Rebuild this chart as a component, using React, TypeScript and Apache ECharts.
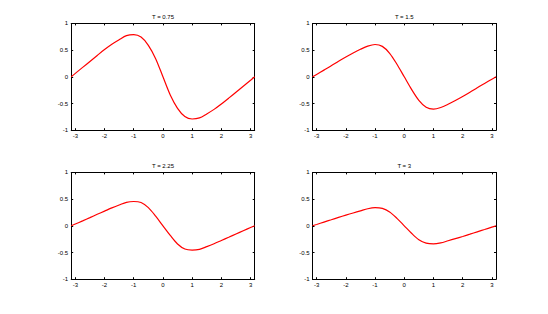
import React, { useEffect, useRef } from "react";
import * as echarts from "echarts";

const xs = [-Math.PI, -3, -2.75, -2.5, -2.25, -2, -1.75, -1.5, -1.25, -1, -0.75, -0.5, -0.25, 0,
  0.25, 0.5, 0.75, 1, 1.25, 1.5, 1.75, 2, 2.25, 2.5, 2.75, 3, Math.PI];

const u075 = [0, 0.064, 0.176, 0.288, 0.4, 0.51, 0.61, 0.695, 0.77, 0.79, 0.745, 0.59, 0.34, 0,
  -0.34, -0.59, -0.745, -0.79, -0.77, -0.695, -0.61, -0.51, -0.4, -0.288, -0.176, -0.064, 0];
const u150 = [0, 0.045, 0.125, 0.205, 0.29, 0.37, 0.445, 0.515, 0.575, 0.605, 0.57, 0.44, 0.235, 0,
  -0.235, -0.44, -0.57, -0.605, -0.575, -0.515, -0.445, -0.37, -0.29, -0.205, -0.125, -0.045, 0];
const u225 = [0, 0.033, 0.092, 0.153, 0.215, 0.275, 0.335, 0.39, 0.44, 0.455, 0.435, 0.34, 0.18, 0,
  -0.18, -0.34, -0.435, -0.455, -0.44, -0.39, -0.335, -0.275, -0.215, -0.153, -0.092, -0.033, 0];
const u300 = [0, 0.025, 0.07, 0.113, 0.157, 0.2, 0.24, 0.28, 0.32, 0.34, 0.325, 0.26, 0.14, 0,
  -0.14, -0.26, -0.325, -0.34, -0.32, -0.28, -0.24, -0.2, -0.157, -0.113, -0.07, -0.025, 0];

const titles = ["T = 0.75", "T = 1.5", "T = 2.25", "T = 3"];
const seriesValues = [u075, u150, u225, u300];
const xTicks = [-3, -2, -1, 0, 1, 2, 3];

const FONT = "Liberation Sans";

export default function App() {
  const ref = useRef<HTMLDivElement>(null);
  useEffect(() => {
    if (!ref.current) return;
    const chart = echarts.init(ref.current, undefined, { renderer: "svg" });
    const boxes = [
      { left: 71.2, top: 23.4, width: 183.5, height: 106.8 },
      { left: 312.5, top: 23.4, width: 183.5, height: 106.8 },
      { left: 71.2, top: 172.4, width: 183.5, height: 106.8 },
      { left: 312.5, top: 172.4, width: 183.5, height: 106.8 },
    ];
    const axisLine = { show: true, onZero: false, lineStyle: { color: "#000", width: 1 } };
    const xAxis: any[] = [];
    const yAxis: any[] = [];
    const series: any[] = [];
    const graphic: any[] = [];
    boxes.forEach((b, i) => {
      xAxis.push({
        type: "value", gridIndex: i, position: "bottom", min: -Math.PI, max: Math.PI,
        axisLine, splitLine: { show: false },
        axisTick: { show: true, inside: true, length: 2, customValues: xTicks, lineStyle: { color: "#000" } },
        axisLabel: { show: true, customValues: xTicks, fontSize: 6, margin: 3, color: "#000", fontFamily: FONT },
      });
      xAxis.push({
        type: "value", gridIndex: i, position: "top", min: -Math.PI, max: Math.PI,
        axisLine, splitLine: { show: false },
        axisTick: { show: true, inside: true, length: 2, customValues: xTicks, lineStyle: { color: "#000" } },
        axisLabel: { show: false },
      });
      yAxis.push({
        type: "value", gridIndex: i, position: "left", min: -1, max: 1, interval: 0.5,
        axisLine, splitLine: { show: false },
        axisTick: { show: true, inside: true, length: 2, lineStyle: { color: "#000" } },
        axisLabel: { show: true, fontSize: 6, margin: 3, color: "#000", fontFamily: FONT },
      });
      yAxis.push({
        type: "value", gridIndex: i, position: "right", min: -1, max: 1, interval: 0.5,
        axisLine, splitLine: { show: false },
        axisTick: { show: true, inside: true, length: 2, lineStyle: { color: "#000" } },
        axisLabel: { show: false },
      });
      series.push({
        type: "line", xAxisIndex: 2 * i, yAxisIndex: 2 * i,
        data: xs.map((x, j) => [x, seriesValues[i][j]]),
        smooth: 0.3, showSymbol: false, symbol: "none",
        lineStyle: { color: "#ff0000", width: 1.2 },
      });
      graphic.push({
        type: "text", x: b.left + b.width / 2, y: b.top - 6.5,
        style: { text: titles[i], fontSize: 6, fill: "#000", fontFamily: FONT, align: "center", verticalAlign: "middle" },
      });
    });
    chart.setOption({
      animation: false,
      backgroundColor: "#fff",
      grid: boxes.map((b) => ({ ...b, containLabel: false })),
      xAxis, yAxis, series, graphic,
    });
    return () => chart.dispose();
  }, []);
  return <div ref={ref} style={{ position: "absolute", left: 0, top: 0, width: 548, height: 314 }} />;
}
